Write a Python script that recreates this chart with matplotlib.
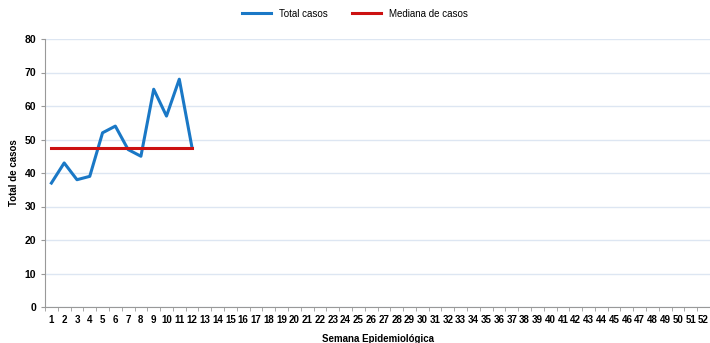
import matplotlib
matplotlib.use('Agg')
import matplotlib.pyplot as plt
import numpy as np

# casos por semana epidemiológica
semanas = list(range(1, 53))
semanas_obs = list(range(1, 13))
total_casos = [37, 43, 38, 39, 52, 54, 47, 45, 65, 57, 68, 47.5]
mediana = [47.5] * 12

plt.rcParams['font.family'] = ['Liberation Sans', 'DejaVu Sans']

fig = plt.figure(figsize=(7.10, 3.43), dpi=100)
ax = fig.add_axes([45 / 710, 36 / 343, 665 / 710, 268 / 343])

ax.plot(semanas_obs, total_casos, color='#1a78c6', lw=2.2, label='Total casos', zorder=3)
ax.plot(semanas_obs, mediana, color='#cc1111', lw=2.2, label='Mediana de casos', zorder=4)

ax.set_xlim(0.5, 52.5)
ax.set_ylim(0, 80)
ax.set_yticks(np.arange(0, 81, 10))
ax.set_xticks(semanas)
ax.set_xticklabels([str(s) for s in semanas], fontsize=7, fontweight='bold')
ax.set_xticks(np.arange(0.5, 53, 1), minor=True)
ax.tick_params(axis='x', which='major', length=0, pad=6)
ax.tick_params(axis='x', which='minor', length=3, color='#999999')
ax.tick_params(axis='y', length=3, color='#999999', labelsize=7.5)
for t in ax.get_yticklabels():
    t.set_fontweight('bold')

ax.grid(axis='y', color='#dde6f2', lw=1)
ax.set_axisbelow(True)
for s in ['top', 'right']:
    ax.spines[s].set_visible(False)
ax.spines['left'].set_color('#999999')
ax.spines['bottom'].set_color('#999999')

ax.set_ylabel('Total de casos', fontsize=7, fontweight='bold', labelpad=4)
ax.set_xlabel('Semana Epidemiológica', fontsize=7, fontweight='bold', labelpad=6)

fig.legend(loc='upper center', bbox_to_anchor=(0.5, 1.0), ncol=2, frameon=False,
           fontsize=7, handlelength=3, columnspacing=2.5)

fig.savefig('out.png', dpi=100)
